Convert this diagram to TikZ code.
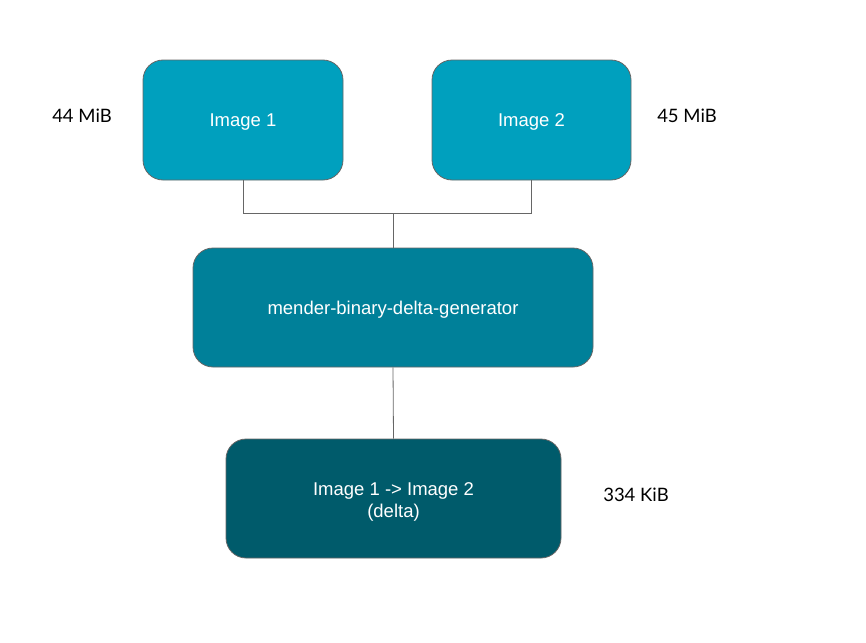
\documentclass[tikz,border=0pt]{standalone}
\usepackage{fontspec}
\setmainfont{Liberation Sans}
\newfontfamily\labelfont{Lato}
\definecolor{boxlight}{RGB}{0,160,190}
\definecolor{boxmid}{RGB}{0,128,153}
\definecolor{boxdark}{RGB}{0,91,107}
\definecolor{edgegray}{RGB}{102,102,102}
\begin{document}
\begin{tikzpicture}[x=1pt,y=-1pt,
  blockbox/.style={draw=edgegray, line width=0.8pt, rounded corners=20pt, text=white,
    font=\fontsize{18.5}{22}\selectfont, align=center, inner sep=0pt},
  oneline/.style={text height=13.3pt, text depth=0pt},
  sizelabel/.style={font=\labelfont\fontsize{18.5}{22}\selectfont, text=black, inner sep=0pt},
  link/.style={draw=edgegray, line width=0.8pt}]
\useasboundingbox (0,0) rectangle (866,642);
\node[blockbox, oneline, fill=boxlight, minimum width=200pt, minimum height=120pt] (img1) at (243,120) {Image 1};
\node[blockbox, oneline, fill=boxlight, minimum width=199pt, minimum height=120pt] (img2) at (531.5,120) {Image 2};
\node[blockbox, oneline, fill=boxmid, minimum width=400pt, minimum height=119pt] (gen) at (393,307.5) {mender-binary-delta-generator};
\node[blockbox, fill=boxdark, minimum width=335pt, minimum height=119pt] (delta) at (393.5,498.5) {\rule{0pt}{20pt}Image 1 -> Image 2\\(delta)};
\coordinate (join) at (393,213);
\node[sizelabel] (l1) at (82,116) {44 MiB};
\node[sizelabel] (l2) at (687,116) {45 MiB};
\node[sizelabel] (l3) at (636,495) {334 KiB};
\draw[link] (img1.south) |- (join);
\draw[link] (img2.south) |- (join);
\draw[link] (join) -- (gen.north);
\draw[link] (gen.south) -- (delta.north);
\end{tikzpicture}
\end{document}
